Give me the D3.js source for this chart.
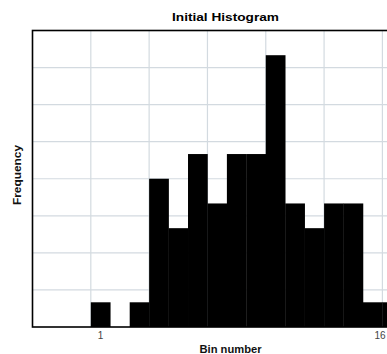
<!DOCTYPE html>
<html>
<head>
<script src="https://d3js.org/d3.v7.min.js" charset="utf-8"></script>
<style>
    body { margin: 0; background: #fff; }
    svg { display: block; font-family: "Liberation Sans", Arial, sans-serif; }
</style>
</head>
<body>
<script>
    // bin numbers and their counts
    var bins = [1, 2, 3, 4, 5, 6, 7, 8, 9, 10, 11, 12, 13, 14, 15, 16];
    var counts = [1, 0, 1, 6, 4, 7, 5, 7, 7, 11, 5, 4, 5, 5, 1, 1];
    var xTickLabels = [1, 16];
    var yGrid = [1.5, 3, 4.5, 6, 7.5, 9, 10.5];
    var xGrid = [0.5, 3.5, 6.5, 9.5, 12.5, 15.5, 18.5];

    var w = 387;
    var h = 354;
    var plotLeft = 32.5, plotTop = 30.5, plotBottom = 327;
    var plotRight = 431;

    var svg = d3.select("body")
                .append("svg")
                .attr("width", w)
                .attr("height", h);

    var x = d3.scaleLinear().domain([-2.5, 18]).range([plotLeft, plotRight]);
    var y = d3.scaleLinear().domain([0, 12]).range([plotBottom, plotTop]);

    // grid
    svg.selectAll("line.hgrid")
        .data(yGrid)
        .enter()
        .append("line")
        .attr("x1", plotLeft).attr("x2", plotRight)
        .attr("y1", function(d) { return y(d); })
        .attr("y2", function(d) { return y(d); })
        .attr("stroke", "#d3dae0")
        .attr("stroke-width", 1.2);

    svg.selectAll("line.vgrid")
        .data(xGrid)
        .enter()
        .append("line")
        .attr("y1", plotTop).attr("y2", plotBottom)
        .attr("x1", function(d) { return x(d); })
        .attr("x2", function(d) { return x(d); })
        .attr("stroke", "#d3dae0")
        .attr("stroke-width", 1.2);

    // bars
    svg.selectAll("rect.bar")
        .data(bins)
        .enter()
        .append("rect")
        .attr("x", function(d) { return x(d - 0.5); })
        .attr("width", function(d) { return x(d + 0.5) - x(d - 0.5) + 0.3; })
        .attr("y", function(d, i) { return y(counts[i]); })
        .attr("height", function(d, i) { return y(0) - y(counts[i]); })
        .attr("fill", "#000");

    // frame
    svg.append("rect")
        .attr("x", plotLeft).attr("y", plotTop)
        .attr("width", plotRight - plotLeft)
        .attr("height", plotBottom - plotTop)
        .attr("fill", "none")
        .attr("stroke", "#000")
        .attr("stroke-width", 1.6);

    // x tick labels
    svg.selectAll("text.tick")
        .data(xTickLabels)
        .enter()
        .append("text")
        .attr("x", function(d) { return Math.min(x(d), w - 7); })
        .attr("y", 339)
        .attr("text-anchor", "middle")
        .attr("font-size", "10px")
        .attr("fill", "#444")
        .text(function(d) { return d; });

    svg.append("text")
        .attr("x", 225.5)
        .attr("y", 21)
        .attr("text-anchor", "middle")
        .attr("font-size", "11.5px")
        .attr("font-weight", "bold")
        .attr("textLength", 107)
        .attr("lengthAdjust", "spacingAndGlyphs")
        .text("Initial Histogram");

    svg.append("text")
        .attr("x", 230.5)
        .attr("y", 353)
        .attr("text-anchor", "middle")
        .attr("font-size", "10px")
        .attr("font-weight", "bold")
        .attr("fill", "#111")
        .attr("textLength", 62)
        .attr("lengthAdjust", "spacingAndGlyphs")
        .text("Bin number");

    svg.append("text")
        .attr("transform", "translate(20.5,175) rotate(-90)")
        .attr("text-anchor", "middle")
        .attr("font-size", "10px")
        .attr("font-weight", "bold")
        .attr("fill", "#111")
        .attr("textLength", 60)
        .attr("lengthAdjust", "spacingAndGlyphs")
        .text("Frequency");
</script>
</body>
</html>
